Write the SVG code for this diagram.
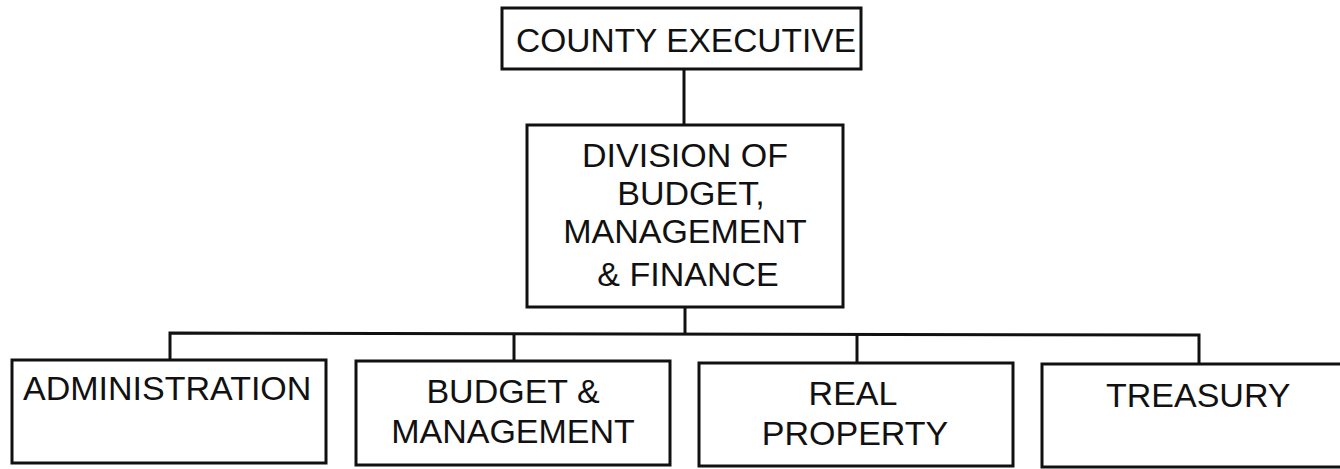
<svg xmlns="http://www.w3.org/2000/svg" width="1340" height="469" viewBox="0 0 1340 469">
<style>
.box{fill:#fff;stroke:#111;stroke-width:3}
.ln{fill:none;stroke:#111;stroke-width:3}
text{font-family:"Liberation Sans",Arial,sans-serif;font-size:34px;fill:#111}
.c{text-anchor:middle}
</style>
<rect width="1340" height="469" fill="#fff"/>
<g id="connectors">
<line class="ln" x1="684" y1="69" x2="684" y2="125"/>
<line class="ln" x1="685" y1="307" x2="685" y2="334"/>
<polyline class="ln" points="170,360 170,333 1199,335 1199,364"/>
<line class="ln" x1="514" y1="333" x2="514" y2="361"/>
<line class="ln" x1="857" y1="334" x2="857" y2="363"/>
</g>
<g id="county-executive">
<rect class="box" x="502" y="8" width="359" height="61"/>
<text x="516" y="52" font-size="36" textLength="340" lengthAdjust="spacingAndGlyphs">COUNTY EXECUTIVE</text>
</g>
<g id="division">
<rect class="box" x="527" y="125" width="316" height="182"/>
<text class="c" x="685" y="167">DIVISION OF</text>
<text class="c" x="691" y="205">BUDGET,</text>
<text class="c" x="685" y="243">MANAGEMENT</text>
<text class="c" x="688" y="286">&amp; FINANCE</text>
</g>
<g id="administration">
<rect class="box" x="12" y="360" width="314" height="103"/>
<text x="23" y="400">ADMINISTRATION</text>
</g>
<g id="budget-management">
<rect class="box" x="356" y="361" width="314" height="104"/>
<text class="c" x="513" y="403">BUDGET &amp;</text>
<text class="c" x="513" y="443">MANAGEMENT</text>
</g>
<g id="real-property">
<rect class="box" x="699" y="363" width="314" height="103"/>
<text class="c" x="853" y="405">REAL</text>
<text class="c" x="855" y="445">PROPERTY</text>
</g>
<g id="treasury">
<rect class="box" x="1042" y="364" width="314" height="103"/>
<text x="1106" y="407">TREASURY</text>
</g>
</svg>
